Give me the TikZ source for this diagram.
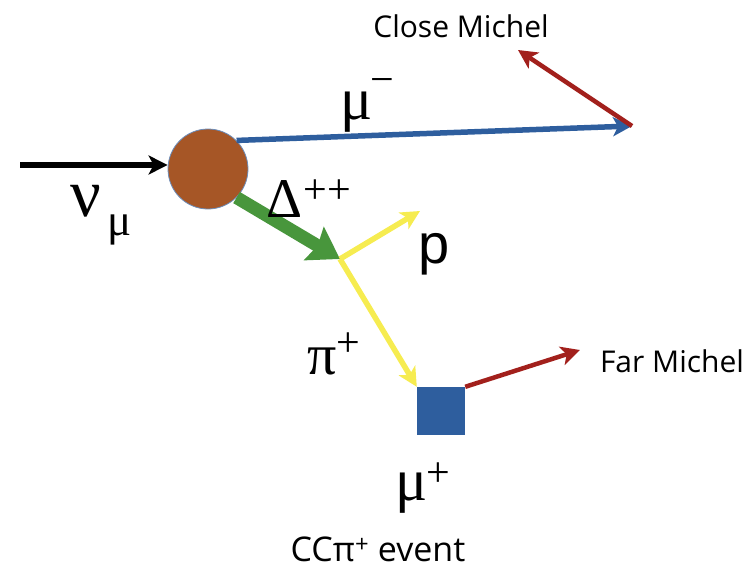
\documentclass[tikz,border=0pt]{standalone}
\usepackage{fontspec}
\setmainfont{Open Sans}
\newfontfamily\greekfont{Liberation Serif}
\newfontfamily\arialfont{Liberation Sans}
\usetikzlibrary{arrows.meta, positioning}
\definecolor{vtxbrown}{RGB}{166,86,38}
\definecolor{trkblue}{RGB}{46,94,158}
\definecolor{michred}{RGB}{162,32,28}
\definecolor{deltagreen}{RGB}{72,150,60}
\definecolor{pionyellow}{RGB}{246,236,80}

\begin{document}
\begin{tikzpicture}[x=1pt, y=-1pt,
  track/.style={line width=5.5pt},
  tip/.style={-{Stealth[length=19pt,width=19pt,inset=5pt]}},
  lbl/.style={font=\fontsize{30}{34}\selectfont},
  greek/.style={font=\greekfont\fontsize{60}{64}\selectfont},
  sup/.style={font=\greekfont\fontsize{42}{46}\selectfont},
  inner sep=0pt]
  \useasboundingbox (0,0) rectangle (756,568);

  % Vertex and end points
  \node[circle, minimum size=80pt, fill=vtxbrown, draw=trkblue!70, line width=0.8pt] (vtx) at (208,169) {};
  \coordinate (nustart) at (20,165);
  \coordinate (muend) at (632,126);
  \coordinate (closeend) at (518,50);
  \coordinate (decay) at (340,259);
  \coordinate (pend) at (420,211);
  \node[rectangle, minimum size=48pt, fill=trkblue] (mustop) at (441,411) {};
  \coordinate (farend) at (580,350);

  % Tracks
  \draw[track, tip, black] (nustart) -- (nustart -| vtx.west);
  \draw[track, tip, trkblue] (vtx.north east) -- (muend);
  \draw[line width=4.5pt, tip, michred] (muend) -- (closeend);
  \draw[line width=13pt, -{Stealth[length=30pt,width=38pt,inset=4pt]}, deltagreen] (vtx.south east) -- (decay);
  \draw[track, tip, pionyellow] (decay) -- (pend);
  \draw[track, tip, pionyellow] (decay) -- (mustop.north west);
  \draw[line width=4.5pt, tip, michred] (mustop.north east) -- (farend);

  % Labels
  \node[greek, font=\greekfont\fontsize{68}{72}\selectfont] (nu) at (86,201) {ν};
  \node[greek, font=\greekfont\fontsize{45}{50}\selectfont] (nusub) at (120,230) {μ};
  \node[greek] (mumin) at (357,112) {μ};
  \node[sup] (muminsup) at (382,86) {−};
  \node[lbl] (close) at (461,26) {Close Michel};
  \node[greek, font=\greekfont\fontsize{56}{60}\selectfont] (delta) at (285,199) {Δ};
  \node[sup] (deltasup) at (327,192) {++};
  \node[font=\arialfont\fontsize{56}{60}\selectfont] (plbl) at (434,254) {p};
  \node[greek, font=\greekfont\fontsize{58}{62}\selectfont] (pi) at (322,361) {π};
  \node[sup] (pisup) at (348,345) {+};
  \node[lbl] (far) at (672,361) {Far Michel};
  \node[greek] (muplus) at (412,493) {μ};
  \node[sup] (muplussup) at (438,475) {+};
  \node[font=\fontsize{34}{38}\selectfont] (caption) at (378,549) {CCπ\textsuperscript{+} event};
\end{tikzpicture}
\end{document}
